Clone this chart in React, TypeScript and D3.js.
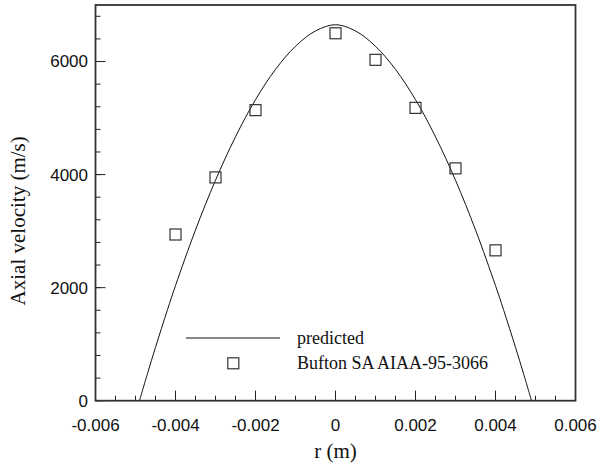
import React from "react";
import * as d3 from "d3";

const curveR = [-0.0049, -0.0047, -0.0045, -0.0042, -0.004, -0.0035, -0.003, -0.0025, -0.002, -0.0015, -0.001, -0.0005, 0, 0.0005, 0.001, 0.0015, 0.002, 0.0025, 0.003, 0.0035, 0.004, 0.0042, 0.0045, 0.0047, 0.0049];
const curveV = [0, 481, 944, 1612, 2036, 3021, 3900, 4669, 5325, 5861, 6270, 6541, 6650, 6541, 6270, 5861, 5325, 4669, 3900, 3021, 2036, 1612, 944, 481, 0];
const expR = [-0.004, -0.003, -0.002, 0, 0.001, 0.002, 0.003, 0.004];
const expV = [2940, 3950, 5140, 6500, 6030, 5180, 4110, 2660];
const xTicks = [-0.006, -0.004, -0.002, 0, 0.002, 0.004, 0.006];
const xTickLabels = ["-0.006", "-0.004", "-0.002", "0", "0.002", "0.004", "0.006"];
const yTicks = [0, 2000, 4000, 6000];
const yTickLabels = ["0", "2000", "4000", "6000"];
const legendLabels = ["predicted", "Bufton SA AIAA-95-3066"];

export default function App() {
  const W = 605, H = 465;
  const L = 95.5, R = 575.5, T = 5, B = 400.7;
  const x = d3.scaleLinear().domain([-0.006, 0.006]).range([L, R]);
  const y = d3.scaleLinear().domain([0, 7000]).range([B, T]);
  const xMinor = d3.range(-0.006, 0.00601, 0.0005);
  const yMinor = d3.range(0, 7001, 400);
  const line = d3.line<number>().x((d, i) => x(curveR[i])).y((d) => y(d)).curve(d3.curveCatmullRom);
  const sans = "'Liberation Sans', Arial, sans-serif";
  const serif = "'Liberation Serif', 'Times New Roman', serif";
  const sq = 11;
  return (
    <svg width={W} height={H} style={{ position: "absolute", left: 0, top: 0, background: "#fff" }}>
      <defs>
        <clipPath id="plot"><rect x={L} y={T} width={R - L} height={B - T} /></clipPath>
      </defs>
      {/* minor ticks */}
      {xMinor.map((t, i) => (
        <g key={"xm" + i}>
          <line x1={x(t)} x2={x(t)} y1={B} y2={B - 5} stroke="#222" strokeWidth={1} />
        </g>
      ))}
      {yMinor.map((t, i) => (
        <line key={"ym" + i} x1={L} x2={L + 5} y1={y(t)} y2={y(t)} stroke="#222" strokeWidth={1} />
      ))}
      {xTicks.map((t, i) => (
        <g key={"xt" + i}>
          <line x1={x(t)} x2={x(t)} y1={B} y2={B - 10} stroke="#222" strokeWidth={1} />
          <text x={x(t)} y={431} textAnchor="middle" fontFamily={sans} fontSize={17} fill="#111">{xTickLabels[i]}</text>
        </g>
      ))}
      {yTicks.map((t, i) => (
        <g key={"yt" + i}>
          <line x1={L} x2={L + 10} y1={y(t)} y2={y(t)} stroke="#222" strokeWidth={1} />
          <text x={88} y={y(t)} dy="0.35em" textAnchor="end" fontFamily={sans} fontSize={17} fill="#111">{yTickLabels[i]}</text>
        </g>
      ))}
      <path d={line(curveV) || ""} fill="none" stroke="#111" strokeWidth={1} clipPath="url(#plot)" />
      {expR.map((r, i) => (
        <rect key={"e" + i} x={x(r) - sq / 2} y={y(expV[i]) - sq / 2} width={sq} height={sq} fill="none" stroke="#333" strokeWidth={1.2} />
      ))}
      <rect x={L} y={T} width={R - L} height={B - T} fill="none" stroke="#333" strokeWidth={1.8} />
      {/* legend */}
      <line x1={186} x2={280} y1={338} y2={338} stroke="#111" strokeWidth={1} />
      <text x={297} y={344} fontFamily={serif} fontSize={18} fill="#111">{legendLabels[0]}</text>
      <rect x={233.3 - sq / 2} y={363.3 - sq / 2} width={sq} height={sq} fill="none" stroke="#333" strokeWidth={1.2} />
      <text x={297} y={369} fontFamily={serif} fontSize={18} fill="#111">{legendLabels[1]}</text>
      <text x={x(0)} y={458} textAnchor="middle" fontFamily={serif} fontSize={21} fill="#111">r (m)</text>
      <text transform={`translate(25, ${(T + B) / 2 + 18}) rotate(-90)`} textAnchor="middle" fontFamily={serif} fontSize={21} fill="#111">Axial velocity (m/s)</text>
    </svg>
  );
}
